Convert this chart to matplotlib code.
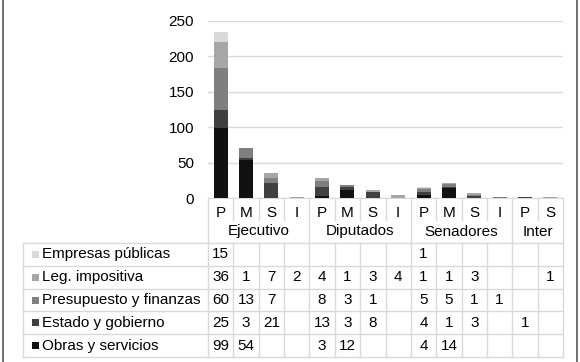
import matplotlib
matplotlib.use("Agg")
import matplotlib.pyplot as plt
import numpy as np

plt.rcParams['font.family'] = ['Liberation Sans', 'DejaVu Sans']

subcats = ["P", "M", "S", "I", "P", "M", "S", "I", "P", "M", "S", "I", "P", "S"]
groups = ["Ejecutivo", "Diputados", "Senadores", "Inter"]
group_sizes = [4, 4, 4, 2]

series_names = ["Obras y servicios", "Estado y gobierno", "Presupuesto y finanzas",
                "Leg. impositiva", "Empresas públicas"]
obras       = [99, 54, None, None, 3, 12, None, None, 4, 14, None, None, None, None]
estado      = [25, 3, 21, None, 13, 3, 8, None, 4, 1, 3, None, 1, None]
presupuesto = [60, 13, 7, None, 8, 3, 1, None, 5, 5, 1, 1, None, None]
leg         = [36, 1, 7, 2, 4, 1, 3, 4, 1, 1, 3, None, None, 1]
empresas    = [15, None, None, None, None, None, None, None, 1, None, None, None, None, None]
series = [obras, estado, presupuesto, leg, empresas]
colors = ["#111111", "#404040", "#7f7f7f", "#a6a6a6", "#d9d9d9"]

W, H = 580, 362
fig = plt.figure(figsize=(W / 100, H / 100), dpi=100)

# chart axes in pixel geometry
axL, axR, axT, axB = 208, 563, 21, 198
ax = fig.add_axes([axL / W, 1 - axB / H, (axR - axL) / W, (axB - axT) / H])
n = len(subcats)
x = np.arange(n)
bottom = np.zeros(n)
for vals, c in zip(series, colors):
    v = np.array([0 if a is None else a for a in vals], dtype=float)
    ax.bar(x, v, 0.55, bottom=bottom, color=c, zorder=3)
    bottom += v
ax.set_xlim(-0.5, n - 0.5)
ax.set_ylim(0, 250)
ax.set_yticks(np.arange(0, 251, 50))
ax.yaxis.grid(True, color="#d9d9d9", lw=1)
ax.set_axisbelow(True)
ax.set_xticks([])
for s in ["top", "right", "left"]:
    ax.spines[s].set_visible(False)
ax.spines["bottom"].set_color("#d9d9d9")
ax.tick_params(axis="y", length=0, labelsize=11, pad=10)

# overlay axes in pixel coordinates for the data table
ov = fig.add_axes([0, 0, 1, 1], zorder=5)
ov.set_xlim(0, W)
ov.set_ylim(H, 0)
ov.axis("off")
ov.patch.set_alpha(0)

slot = (axR - axL) / n
colx = [axL + i * slot for i in range(n + 1)]
lc = "#d9d9d9"
fs = 11

tabL = 23
row_cat_bot = 220
row_top = 243
rowh = (357 - 243) / 5
rows_y = [row_top + i * rowh for i in range(6)]

# category row
for i, s in enumerate(subcats):
    ov.text(colx[i] + slot / 2, 213, s, ha="center", va="center", fontsize=fs)
# group boundaries
bounds = [0]
for g in group_sizes:
    bounds.append(bounds[-1] + g)
for i in range(n + 1):
    if i in bounds:
        ov.plot([colx[i], colx[i]], [axB, rows_y[-1]], color=lc, lw=1)
    else:
        ov.plot([colx[i], colx[i]], [axB, row_cat_bot], color=lc, lw=1)
        ov.plot([colx[i], colx[i]], [row_top, rows_y[-1]], color=lc, lw=1)
for gi, g in enumerate(groups):
    cx = (colx[bounds[gi]] + colx[bounds[gi + 1]]) / 2
    ov.text(cx, 231.5, g, ha="center", va="center", fontsize=fs)

# data rows (top row = last series)
for r in range(6):
    ov.plot([tabL, axR], [rows_y[r], rows_y[r]], color=lc, lw=1)
ov.plot([tabL, tabL], [rows_y[0], rows_y[-1]], color=lc, lw=1)
for r, si in enumerate(range(len(series) - 1, -1, -1)):
    cy = (rows_y[r] + rows_y[r + 1]) / 2
    ov.add_patch(plt.Rectangle((32, cy - 3.5), 7, 7, color=colors[si], lw=0))
    ov.text(41.5, cy, series_names[si], ha="left", va="center", fontsize=fs)
    for i, v in enumerate(series[si]):
        if v is not None:
            ov.text(colx[i] + slot / 2, cy, str(v), ha="center", va="center", fontsize=fs)

# side border lines
ov.plot([2.5, 2.5], [0, H], color="#595959", lw=1.2)
ov.plot([577, 577], [0, H], color="#595959", lw=1.2)

fig.savefig("out.png", dpi=100)
